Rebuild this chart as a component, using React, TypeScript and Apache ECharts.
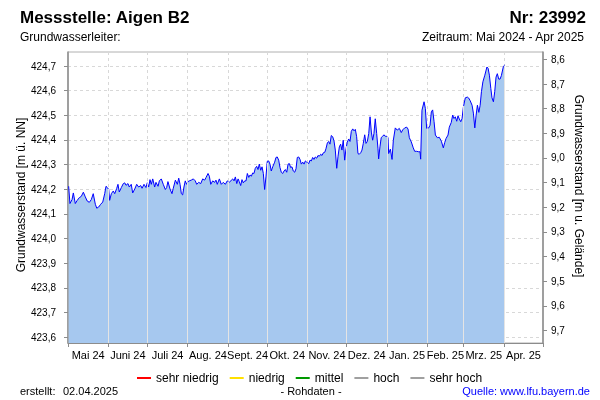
import { useEffect, useRef } from 'react';
import * as echarts from 'echarts';

// Day offsets from 2024-05-01 and groundwater level (m ü. NN)
const days = [
  0.5, 1.5, 3.1, 4.1, 5.6, 7.1, 8.7, 10.2, 11.8, 13.3, 14.8, 16.4, 17.9, 19.4, 21.0, 22.1, 23.6, 25.1, 26.7, 28.2,
  29.2, 30.2, 31.3, 32.0, 33.3, 34.8, 35.9, 37.4, 38.4, 39.4, 41.0, 42.5, 43.6, 44.6, 46.1, 47.1, 48.6, 49.7, 51.3, 52.8,
  54.3, 55.9, 56.9, 58.4, 59.9,
  60.9, 62.0, 63.0, 64.0, 65.1, 66.6, 67.6, 69.2, 70.2, 71.7, 73.2, 74.8, 75.8, 76.8, 78.4, 79.9, 80.9, 82.5, 84.0, 85.1,
  86.1, 87.1, 88.1, 89.1, 90.1, 91.2, 92.2, 93.2, 94.7, 96.3, 97.8, 98.9, 100.4, 102.0, 103.5, 105.0, 106.0, 107.6, 108.6, 109.7,
  111.2, 112.7, 113.7, 114.7, 116.3, 117.8, 119.3, 120.9, 122.4,
  124.0, 125.5, 126.6, 127.6, 128.6, 129.7, 130.7, 131.6, 132.7, 133.7, 134.7, 135.8, 136.8, 137.8, 138.9, 139.9, 140.9, 141.9, 142.9, 143.9,
  145.0, 146.0, 147.0, 148.1, 149.1, 150.1, 151.1, 152.1, 153.1, 154.2, 155.2, 156.2, 157.3, 158.8, 159.8, 160.8, 161.9, 162.9, 163.9, 165.0,
  166.0, 167.0, 168.1, 169.1, 170.1, 171.1, 172.1, 173.1, 174.2, 175.2, 176.2, 177.3, 178.3, 179.3, 180.4, 181.4, 182.4, 183.4,
  185.0, 186.0, 187.0, 188.0, 189.0, 190.0, 191.1, 192.1, 193.1, 194.2, 195.2, 196.2, 197.3, 198.2, 199.3, 200.3, 201.3, 202.3, 203.4, 204.4,
  205.4, 206.5, 207.5, 208.5, 209.5, 210.5, 211.5, 212.6, 213.6, 214.6, 215.7, 216.7, 217.7, 218.8, 219.8, 220.8, 221.8, 222.8, 223.8, 224.9,
  225.9, 226.9, 228.0, 229.0, 230.0, 231.1, 232.1, 233.1, 234.1, 235.1, 236.1, 237.2, 238.2, 238.7, 239.7, 240.7, 241.8, 242.8, 243.8, 244.9,
  245.9,
  246.4, 247.7, 249.0, 250.0, 251.5, 253.0, 254.6, 256.1, 257.2, 258.7, 260.3, 261.3, 262.3, 263.8, 265.3, 266.4, 267.9, 269.5, 270.5, 271.0,
  272.0, 273.6, 274.6, 275.6, 277.2, 278.2, 279.2, 280.2, 281.3, 282.3, 283.8, 285.3, 286.9, 288.4, 289.5, 290.5, 292.0, 293.0, 294.5, 295.6,
  296.6, 297.6, 298.7, 299.7, 300.7, 301.8, 302.8, 303.8, 305.3, 306.9,
  307.9, 308.9, 310.5, 311.5, 312.6, 313.6, 314.6, 315.7, 316.7, 317.7, 318.8, 320.3, 321.9, 322.8, 323.8, 324.9, 325.8, 326.9, 327.9, 328.9,
  329.9, 331.0, 332.0, 333.0, 334.6, 335.6,
];

const levels = [
  424.212, 424.142, 424.158, 424.185, 424.142, 424.155, 424.166, 424.171, 424.188, 424.169, 424.152, 424.147, 424.158, 424.182, 424.139, 424.123, 424.128, 424.139, 424.148, 424.182,
  424.212, 424.207, 424.199, 424.155, 424.182, 424.193, 424.182, 424.203, 424.220, 424.189, 424.207, 424.223, 424.226, 424.216, 424.223, 424.209, 424.220, 424.185, 424.201, 424.220,
  424.209, 424.215, 424.204, 424.220, 424.207,
  424.226, 424.209, 424.239, 424.220, 424.242, 424.209, 424.228, 424.212, 424.234, 424.242, 424.220, 424.199, 424.207, 424.231, 424.201, 424.182, 424.204, 424.237, 424.220, 424.245,
  424.220, 424.182, 424.177, 424.209, 424.234, 424.220, 424.231, 424.234, 424.237, 424.242, 424.234, 424.220, 424.228, 424.223, 424.242, 424.237, 424.247, 424.264, 424.253, 424.220,
  424.234, 424.228, 424.237, 424.220, 424.242, 424.220, 424.228, 424.220, 424.234,
  424.228, 424.237, 424.242, 424.234, 424.250, 424.223, 424.242, 424.231, 424.215, 424.239, 424.226, 424.234, 424.234, 424.264, 424.248, 424.258, 424.253, 424.266, 424.264, 424.285,
  424.293, 424.280, 424.302, 424.277, 424.291, 424.264, 424.199, 424.250, 424.313, 424.315, 424.302, 424.274, 424.291, 424.310, 424.329, 424.331, 424.318, 424.288, 424.269, 424.264,
  424.274, 424.280, 424.269, 424.302, 424.304, 424.288, 424.291, 424.274, 424.269, 424.283, 424.329, 424.331, 424.321, 424.302, 424.310, 424.302, 424.315, 424.310,
  424.304, 424.318, 424.315, 424.329, 424.321, 424.331, 424.326, 424.337, 424.334, 424.342, 424.337, 424.348, 424.350, 424.364, 424.388, 424.394, 424.383, 424.418, 424.413, 424.396,
  424.359, 424.285, 424.334, 424.372, 424.383, 424.359, 424.399, 424.318, 424.364, 424.391, 424.404, 424.394, 424.435, 424.445, 424.437, 424.443, 424.413, 424.345, 424.342, 424.348,
  424.359, 424.386, 424.421, 424.386, 424.394, 424.426, 424.494, 424.432, 424.399, 424.426, 424.486, 424.426, 424.364, 424.323, 424.372, 424.410, 424.415, 424.421, 424.415, 424.415,
  424.409,
  424.345, 424.363, 424.321, 424.399, 424.449, 424.440, 424.447, 424.430, 424.441, 424.449, 424.452, 424.444, 424.409, 424.392, 424.368, 424.354, 424.354, 424.352, 424.352, 424.322,
  424.521, 424.555, 424.528, 424.447, 424.449, 424.460, 424.514, 424.522, 424.474, 424.420, 424.409, 424.411, 424.395, 424.368, 424.390, 424.406, 424.420, 424.452, 424.471, 424.501,
  424.487, 424.494, 424.476, 424.498, 424.485, 424.474, 424.487, 424.533, 424.571, 424.574,
  424.570, 424.561, 424.541, 424.509, 424.449, 424.501, 424.541, 424.512, 424.541, 424.596, 424.636, 424.663, 424.696, 424.691, 424.663, 424.609, 424.571, 424.555, 424.596, 424.655,
  424.669, 424.647, 424.647, 424.661, 424.699, 424.704,
];

const monthLabels = ['Mai 24', 'Juni 24', 'Juli 24', 'Aug. 24', 'Sept. 24', 'Okt. 24', 'Nov. 24', 'Dez. 24', 'Jan. 25', 'Feb. 25', 'Mrz. 25', 'Apr. 25'];
const leftTicks = [423.6, 423.7, 423.8, 423.9, 424.0, 424.1, 424.2, 424.3, 424.4, 424.5, 424.6, 424.7];
const rightTicks = [8.6, 8.7, 8.8, 8.9, 9.0, 9.1, 9.2, 9.3, 9.4, 9.5, 9.6, 9.7];
const legendNames = ['sehr niedrig', 'niedrig', 'mittel', 'hoch', 'sehr hoch'];
const legendColors = ['#ff0000', '#ffe000', '#009900', '#a0a0a0', '#a0a0a0'];

const leftMin = 423.576;
const leftMax = 424.757;
const groundLevel = 433.327;

const FONT = '"Liberation Sans", Arial, sans-serif';
const DAY = 86400000;
const startUTC = Date.UTC(2024, 4, 1);
const monthStarts = Array.from({ length: 13 }, (_, i) => (Date.UTC(2024, 4 + i, 1) - startUTC) / DAY);
const monthMids = monthStarts.slice(0, 12).map((s, i) => (s + monthStarts[i + 1]) / 2);

function levelAt(d: number): number {
  for (let i = 1; i < days.length; i++) {
    if (days[i] >= d) {
      const t = (d - days[i - 1]) / (days[i] - days[i - 1]);
      return levels[i - 1] + t * (levels[i] - levels[i - 1]);
    }
  }
  return levels[levels.length - 1];
}

const fmt = (v: number) => v.toFixed(1).replace('.', ',');

export default function App() {
  const ref = useRef<HTMLDivElement>(null);
  useEffect(() => {
    const chart = echarts.init(ref.current!, null, { renderer: 'svg' });
    const lastDay = days[days.length - 1];
    const drops = monthStarts
      .filter((d) => d > 0 && d <= lastDay)
      .map((d) => [{ coord: [d, leftMin] }, { coord: [d, levelAt(d)] }]);

    const axisGray = '#8c8c8c';
    chart.setOption({
      animation: false,
      textStyle: { fontFamily: FONT },
      grid: { left: 68, right: 57, top: 52, bottom: 57, show: true, borderColor: '#b0b0b0', borderWidth: 1 },
      legend: {
        data: legendNames,
        top: 367,
        left: 132,
        icon: 'rect',
        itemWidth: 14,
        itemHeight: 2,
        itemGap: 11,
        selectedMode: false,
        textStyle: { fontSize: 12, color: '#000', fontFamily: FONT },
      },
      xAxis: {
        type: 'value',
        min: 0,
        max: 365,
        axisLine: { lineStyle: { color: axisGray, width: 1 } },
        axisTick: { show: true, length: 4, lineStyle: { color: axisGray }, customValues: monthStarts },
        axisLabel: {
          customValues: monthMids,
          margin: 6,
          fontSize: 11,
          color: '#000',
          fontFamily: FONT,
          formatter: (v: number) => {
            const i = monthMids.findIndex((m) => Math.abs(m - v) < 0.01);
            return i >= 0 ? monthLabels[i] : '';
          },
        },
        splitLine: { show: true, lineStyle: { color: '#d8d8d8', type: [3, 3], width: 1 } },
      },
      yAxis: [
        {
          type: 'value',
          position: 'left',
          min: leftMin,
          max: leftMax,
          axisLine: { show: true, lineStyle: { color: axisGray, width: 1.5 } },
          axisTick: { show: true, length: 4, lineStyle: { color: axisGray }, customValues: leftTicks },
          axisLabel: { customValues: leftTicks, formatter: fmt, fontSize: 10, color: '#000', margin: 12, fontFamily: FONT },
          splitLine: { show: true, lineStyle: { color: '#d8d8d8', type: [3, 3], width: 1 } },
        },
        {
          type: 'value',
          position: 'right',
          inverse: true,
          min: groundLevel - leftMax,
          max: groundLevel - leftMin,
          axisLine: { show: true, lineStyle: { color: axisGray, width: 1.5 } },
          axisTick: { show: true, length: 4, lineStyle: { color: axisGray }, customValues: rightTicks },
          axisLabel: { customValues: rightTicks, formatter: fmt, fontSize: 10, color: '#000', margin: 8, fontFamily: FONT },
          splitLine: { show: false },
        },
      ],
      series: [
        {
          type: 'line',
          name: 'Grundwasserstand',
          data: days.map((d, i) => [d, levels[i]]),
          symbol: 'none',
          showSymbol: false,
          lineStyle: { color: '#0000ff', width: 1 },
          itemStyle: { color: '#0000ff' },
          areaStyle: { color: '#a6c8ef', origin: 'start', opacity: 1 },
          silent: true,
          z: 2,
          markLine: {
            silent: true,
            symbol: ['none', 'none'],
            label: { show: false },
            lineStyle: { color: '#e4e4e4', type: 'solid', width: 1 },
            emphasis: { disabled: true },
            data: drops,
          },
        },
        ...legendNames.map((n, i) => ({
          type: 'line',
          name: n,
          data: [],
          symbol: 'none',
          color: legendColors[i],
          lineStyle: { color: legendColors[i], width: 1 },
          itemStyle: { color: legendColors[i] },
        })),
      ],
      graphic: [
        { type: 'text', x: 20, y: 17, style: { text: 'Messstelle: Aigen B2', font: `bold 17px ${FONT}`, fill: '#000', verticalAlign: 'middle' } },
        { type: 'text', x: 586, y: 17, style: { text: 'Nr: 23992', font: `bold 17px ${FONT}`, fill: '#000', align: 'right', verticalAlign: 'middle' } },
        { type: 'text', x: 20, y: 37, style: { text: 'Grundwasserleiter:', font: `12px ${FONT}`, fill: '#000', verticalAlign: 'middle' } },
        { type: 'text', x: 584, y: 37, style: { text: 'Zeitraum: Mai 2024 - Apr 2025', font: `12px ${FONT}`, fill: '#000', align: 'right', verticalAlign: 'middle' } },
        { type: 'text', x: 21, y: 195, rotation: Math.PI / 2, style: { text: 'Grundwasserstand [m ü. NN]', font: `12px ${FONT}`, fill: '#000', align: 'center', verticalAlign: 'middle' } },
        { type: 'text', x: 579, y: 186, rotation: -Math.PI / 2, style: { text: 'Grundwasserstand [m u. Gelände]', font: `12px ${FONT}`, fill: '#000', align: 'center', verticalAlign: 'middle' } },
        { type: 'text', x: 20, y: 391, style: { text: 'erstellt:', font: `11px ${FONT}`, fill: '#000', verticalAlign: 'middle' } },
        { type: 'text', x: 63, y: 391, style: { text: '02.04.2025', font: `11px ${FONT}`, fill: '#000', verticalAlign: 'middle' } },
        { type: 'text', x: 311, y: 391, style: { text: '- Rohdaten -', font: `11px ${FONT}`, fill: '#000', align: 'center', verticalAlign: 'middle' } },
        { type: 'text', x: 590, y: 391, style: { text: 'Quelle: www.lfu.bayern.de', font: `11px ${FONT}`, fill: '#0000ff', align: 'right', verticalAlign: 'middle' } },
      ],
    });
    return () => chart.dispose();
  }, []);
  return <div ref={ref} style={{ position: 'fixed', left: 0, top: 0, width: 600, height: 400 }} />;
}
